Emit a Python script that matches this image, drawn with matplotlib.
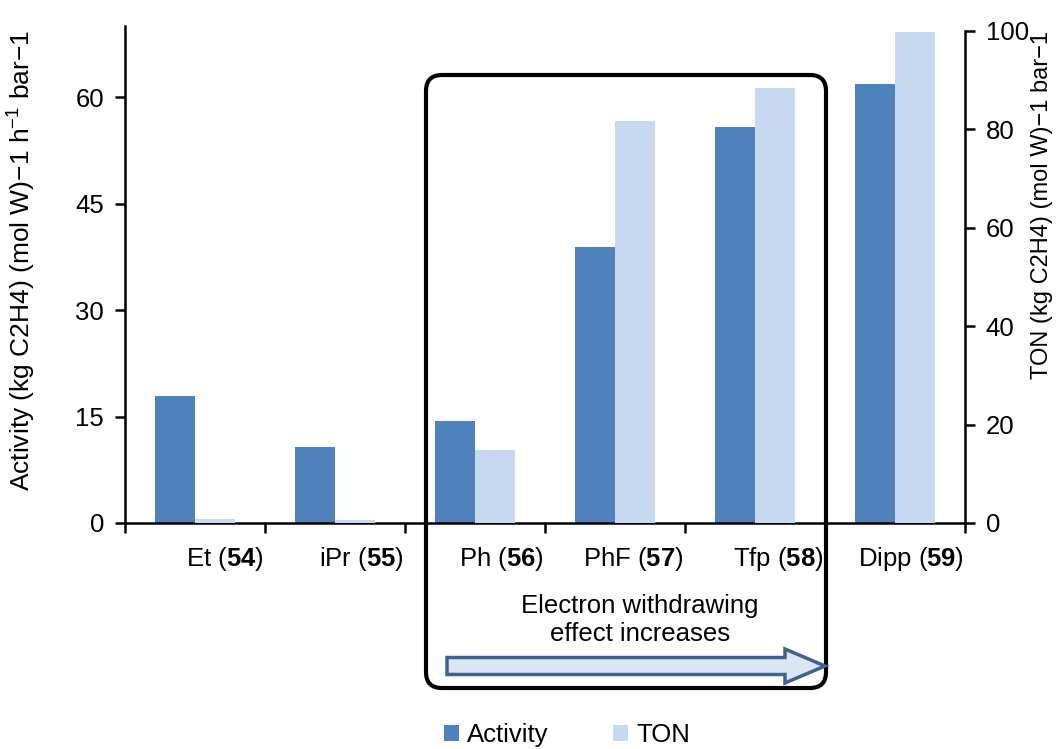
import matplotlib
matplotlib.use("Agg")
import matplotlib.pyplot as plt
import matplotlib.patches as mpatches
from matplotlib.transforms import IdentityTransform
import numpy as np

# data
names = ["Et", "iPr", "Ph", "PhF", "Tfp", "Dipp"]
numbers = ["54", "55", "56", "57", "58", "59"]
activity = [17.9, 10.7, 14.4, 38.9, 55.8, 61.8]
ton = [0.9, 0.6, 14.8, 81.7, 88.4, 99.8]

plt.rcParams['font.family'] = ['Liberation Sans', 'DejaVu Sans']
plt.rcParams['mathtext.fontset'] = 'custom'
plt.rcParams['mathtext.rm'] = 'Liberation Sans'
plt.rcParams['mathtext.bf'] = 'Liberation Sans:bold'
plt.rcParams['axes.unicode_minus'] = True

dark = "#4F81BD"
light = "#C6D9F1"
fs = 18.5

fig = plt.figure(figsize=(10.57, 7.49), dpi=100)
ax = fig.add_axes([125 / 1057, 1 - 523 / 749, 840 / 1057, 497 / 749])
ax2 = ax.twinx()

x = np.arange(len(names))
w = 0.2857
ax.bar(x - w / 2, activity, w, color=dark, label="Activity")
ax2.bar(x + w / 2, ton, w, color=light, label="TON")

ax.set_xlim(-0.5, 5.5)
ax.set_ylim(0, 70)
ax2.set_ylim(0, 101)
ax.set_yticks([0, 15, 30, 45, 60])
ax2.set_yticks([0, 20, 40, 60, 80, 100])
ax.set_xticks(np.arange(-0.5, 6.0, 1.0))
ax.set_xticklabels([])

for a in (ax, ax2):
    a.spines['top'].set_visible(False)
    for s in ('left', 'right', 'bottom'):
        a.spines[s].set_linewidth(1.8)
    a.tick_params(axis='both', direction='out', length=7, width=1.8, labelsize=fs, pad=8)
ax2.spines['right'].set_bounds(0, 100)
ax2.spines['left'].set_visible(False)
ax2.spines['bottom'].set_visible(False)
ax.spines['right'].set_visible(False)

ax.set_ylabel("Activity (kg C2H4) (mol W)\u22121 h$^{\u22121}$ bar\u22121", fontsize=19)
ax2.set_ylabel("TON (kg C2H4) (mol W)\u22121 bar\u22121", fontsize=17)
ax.yaxis.set_label_coords(-0.105, 0.529)
ax2.yaxis.set_label_coords(1.079, 0.64)

# category labels, sitting right of each group centre
for i, (n, num) in enumerate(zip(names, numbers)):
    ax.text(i + 0.49, -0.072, n + r" ($\mathbf{" + num + r"}$)", transform=ax.get_xaxis_transform(),
            ha='right', va='center', fontsize=fs)

# rounded box around the electron-withdrawing groups
box = mpatches.FancyBboxPatch((426, 749 - 688), 400, 613,
                              boxstyle="round,pad=0,rounding_size=16",
                              transform=IdentityTransform(), fill=False,
                              edgecolor='black', linewidth=3, zorder=5)
fig.add_artist(box)

fig.text(640 / 1057, 1 - 620 / 749, "Electron withdrawing\neffect increases",
         ha='center', va='center', fontsize=fs, linespacing=1.25)

arrow = mpatches.FancyArrow(447, 749 - 666, 338, 0, width=17, head_width=34,
                            head_length=40, length_includes_head=False,
                            transform=IdentityTransform(), facecolor="#DCE6F2",
                            edgecolor="#3E6391", linewidth=2.5, zorder=6)
fig.add_artist(arrow)

h1, l1 = ax.get_legend_handles_labels()
h2, l2 = ax2.get_legend_handles_labels()
fig.legend(h1 + h2, l1 + l2, loc='center', bbox_to_anchor=(567 / 1057, 1 - 735 / 749),
           ncol=2, frameon=False, fontsize=fs, handlelength=0.6, handleheight=0.6,
           handletextpad=0.3, columnspacing=2.5, borderpad=0.1)

fig.savefig("out.png", dpi=100)
